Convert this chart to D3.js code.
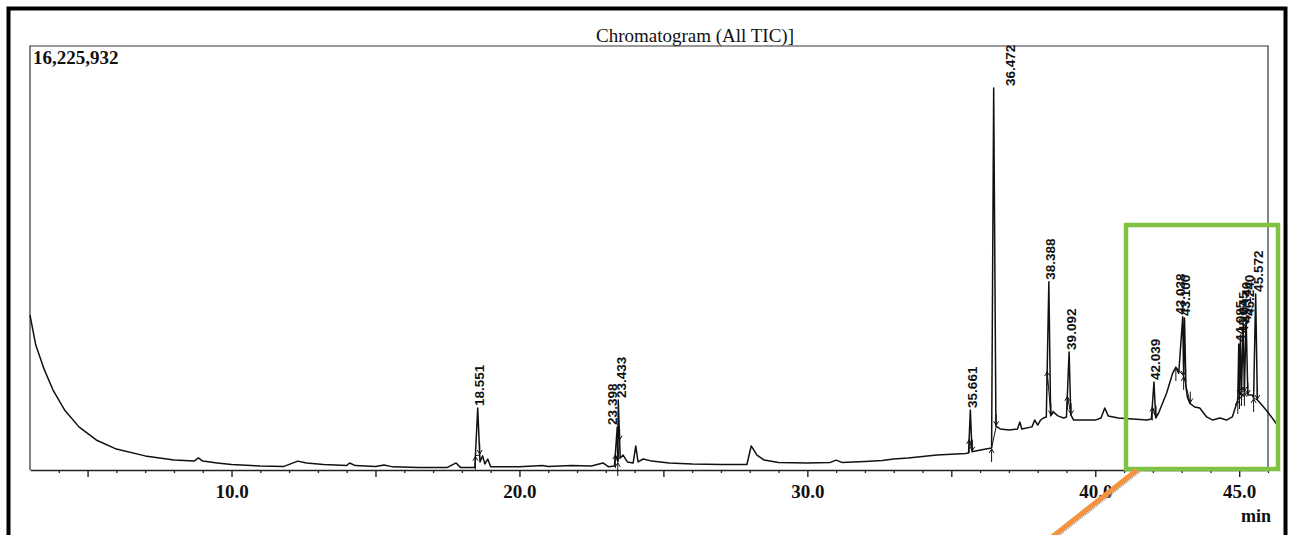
<!DOCTYPE html>
<html>
<head>
<meta charset="utf-8">
<script src="https://cdn.jsdelivr.net/npm/d3@7"></script>
<style>
  html, body { margin: 0; padding: 0; background: #fff; }
  svg { display: block; }
</style>
</head>
<body>
<svg id="chart" width="1290" height="535"></svg>
<script>
// ---------------- DATA ----------------
const chartTitle = "Chromatogram (All TIC)]";
const yMaxLabel = "16,225,932";
const yMax = 16.225932;            // intensity, millions of counts
const xDomain = [3.0, 46.0];      // retention time, min
const xLabelTicks = [10, 20, 30, 40, 45];
const xMajorTicks = [5, 10, 15, 20, 25, 30, 35, 40, 45];
const xMinorTicks = [4,6,7,8,9,11,12,13,14,16,17,18,19,21,22,23,24,26,27,28,29,31,32,33,34,36,37,38,39,41,42,43,44,46];
const xUnit = "min";

// TIC trace: retention time (min)
const traceTime = [3.0,3.2,3.5,3.8,4.2,4.7,5.3,6.0,7.0,8.0,8.7,8.85,9.0,9.5,10.0,11.0,11.8,12.3,12.6,13.2,14.0,14.1,14.3,15.0,15.3,15.6,16.5,17.5,17.8,17.95,18.45,18.551,18.63,18.72,18.8,18.9,19.0,20.0,20.8,21.0,21.8,22.5,22.9,23.1,23.3,23.398,23.415,23.433,23.5,23.6,23.75,23.95,24.04,24.12,24.3,24.6,25.2,26.0,27.0,27.9,28.05,28.25,28.5,29.0,30.0,30.8,31.0,31.2,32.0,32.6,33.0,33.5,34.0,34.5,35.0,35.5,35.6,35.661,35.72,35.8,36.2,36.4,36.472,36.55,36.7,37.0,37.3,37.38,37.45,37.8,37.9,38.0,38.1,38.2,38.3,38.388,38.45,38.55,38.7,38.9,39.0,39.092,39.15,39.25,39.5,40.0,40.2,40.33,40.45,40.8,41.3,41.8,41.95,42.039,42.1,42.2,42.48,42.69,42.8,42.9,43.038,43.07,43.1,43.15,43.2,43.28,43.45,43.63,43.87,44.08,44.33,44.56,44.76,44.95,44.985,45.01,45.045,45.08,45.14,45.18,45.24,45.3,45.45,45.5,45.572,45.63,45.7,45.99,46.4];
// TIC trace: intensity (millions of counts)
const traceIntensity = [5.93,4.78,3.83,3.06,2.30,1.65,1.15,0.80,0.54,0.38,0.34,0.46,0.34,0.27,0.21,0.15,0.13,0.34,0.27,0.21,0.17,0.27,0.17,0.13,0.19,0.12,0.10,0.10,0.27,0.10,0.10,2.37,0.31,0.54,0.23,0.42,0.12,0.12,0.17,0.13,0.17,0.15,0.27,0.12,0.15,1.65,0.31,2.68,0.46,0.57,0.31,0.27,0.92,0.31,0.42,0.34,0.27,0.23,0.21,0.21,0.92,0.57,0.38,0.29,0.27,0.29,0.38,0.29,0.33,0.36,0.42,0.46,0.52,0.57,0.60,0.63,0.65,2.30,0.70,0.72,0.80,0.84,14.62,1.68,1.57,1.53,1.57,1.84,1.57,1.65,1.91,1.72,1.91,1.99,2.03,7.20,2.07,2.22,2.07,1.99,2.03,4.52,2.11,1.91,1.91,1.91,1.99,2.37,2.07,1.99,1.95,1.91,1.95,3.37,1.99,2.18,2.95,3.71,3.94,3.70,5.86,3.60,5.82,3.18,2.79,2.56,2.41,2.37,2.03,1.91,1.99,1.91,2.03,2.68,4.82,2.87,5.17,2.99,5.55,2.99,5.82,2.87,2.87,2.76,6.74,2.68,2.60,2.22,1.61];

// Labelled peaks
const peakLabels = ["18.551","23.398","23.433","35.661","36.472","38.388","39.092","42.039","43.038","43.100","44.985","45.045","45.140","45.240","45.572"];
const peakTime   = [18.551,23.398,23.433,35.661,36.472,38.388,39.092,42.039,43.038,43.100,44.985,45.045,45.140,45.240,45.572];
const peakStart  = [18.47,23.33,23.415,35.62,36.40,38.33,39.03,41.98,42.80,43.07,44.95,45.01,45.08,45.18,45.50];
const peakEnd    = [18.62,23.415,23.48,35.73,36.56,38.46,39.16,42.11,43.07,43.30,45.01,45.08,45.18,45.30,45.63];
const peakLabelShift = [2,-5,3,2,17,2,2,2,-2,1,2,3,3,3,3];

// ---------------- DRAW ----------------
const svg = d3.select("#chart");
const pLeft = 30, pRight = 1268, pTop = 46, pBottom = 470;

const x = d3.scaleLinear().domain(xDomain).range([pLeft, pRight]);
const y = d3.scaleLinear().domain([0, yMax]).range([pBottom, pTop]);

const trace = traceTime.map((t, i) => ({ t, v: traceIntensity[i] }));
const interp = t => {
  const i = d3.bisector(d => d.t).left(trace, t);
  if (i <= 0) return trace[0].v;
  if (i >= trace.length) return trace[trace.length - 1].v;
  const a = trace[i - 1], b = trace[i];
  return a.v + (b.v - a.v) * (t - a.t) / (b.t - a.t);
};

// outer black border
svg.append("rect")
  .attr("x", 8.5).attr("y", 8.5).attr("width", 1277).attr("height", 540)
  .attr("fill", "none").attr("stroke", "#000").attr("stroke-width", 4);

// plot frame
svg.append("path")
  .attr("d", `M${pLeft},${pBottom} V${pTop} H${pRight} V${pBottom}`)
  .attr("fill", "none").attr("stroke", "#333").attr("stroke-width", 1.2);

const serif = "'Liberation Serif', 'Times New Roman', serif";

// title
svg.append("text")
  .attr("x", 695).attr("y", 42)
  .attr("text-anchor", "middle")
  .attr("font-family", serif)
  .attr("font-size", 19).attr("fill", "#111")
  .text(chartTitle);

// y max label
svg.append("text")
  .attr("x", 33).attr("y", 64)
  .attr("font-family", serif)
  .attr("font-weight", "bold")
  .attr("font-size", 19).attr("fill", "#111")
  .text(yMaxLabel);

// x axis: minor ticks, major ticks, labels
const gMinor = svg.append("g").attr("transform", `translate(0,${pBottom})`)
  .call(d3.axisBottom(x).tickValues(xMinorTicks).tickSize(3).tickSizeOuter(0).tickFormat(""));
gMinor.select(".domain").attr("stroke", "#222").attr("stroke-width", 1.6);
gMinor.selectAll(".tick line").attr("stroke", "#222").attr("stroke-width", 1.3);

const gMajor = svg.append("g").attr("transform", `translate(0,${pBottom})`)
  .call(d3.axisBottom(x).tickValues(xMajorTicks).tickSize(7).tickSizeOuter(0).tickFormat(""));
gMajor.select(".domain").remove();
gMajor.selectAll(".tick line").attr("stroke", "#222").attr("stroke-width", 1.4);

const gLab = svg.append("g").attr("transform", `translate(0,${pBottom})`)
  .call(d3.axisBottom(x).tickValues(xLabelTicks).tickSize(0).tickPadding(15).tickFormat(d3.format(".1f")));
gLab.select(".domain").remove();
gLab.selectAll(".tick text")
  .attr("font-family", serif).attr("font-weight", "bold")
  .attr("font-size", 19).attr("fill", "#111");

svg.append("text")
  .attr("x", 1271).attr("y", 522).attr("text-anchor", "end")
  .attr("font-family", serif).attr("font-weight", "bold")
  .attr("font-size", 18).attr("fill", "#111")
  .text(xUnit);

// trace
const line = d3.line().x(d => x(d.t)).y(d => y(d.v));
svg.append("path")
  .datum(trace)
  .attr("d", line)
  .attr("fill", "none").attr("stroke", "#111").attr("stroke-width", 1.5)
  .attr("stroke-linejoin", "round");

// integration baselines + start/end arrows
const marks = svg.append("g").attr("stroke", "#111").attr("fill", "none").attr("stroke-width", 1);
peakTime.forEach((rt, i) => {
  const xs = x(peakStart[i]), ys = y(interp(peakStart[i]));
  const xe = x(peakEnd[i]), ye = y(interp(peakEnd[i]));
  marks.append("line").attr("x1", xs).attr("y1", ys).attr("x2", xe).attr("y2", ye);
  marks.append("path").attr("d", `M${xs},${ys + 14} V${ys + 1} M${xs - 2.5},${ys + 5} L${xs},${ys + 1} L${xs + 2.5},${ys + 5}`);
  marks.append("path").attr("d", `M${xe},${ye - 12} V${ye - 1} M${xe - 2.5},${ye - 5} L${xe},${ye - 1} L${xe + 2.5},${ye - 5}`);
});

// peak labels (rotated)
peakTime.forEach((rt, i) => {
  const px = x(rt) + peakLabelShift[i];
  const py = y(interp(rt)) - 2;
  svg.append("text")
    .attr("transform", `translate(${px},${py}) rotate(-90)`)
    .attr("dominant-baseline", "central")
    .attr("font-family", "'Liberation Sans', Arial, sans-serif")
    .attr("font-weight", "bold")
    .attr("font-size", 13.5).attr("fill", "#111")
    .text(peakLabels[i]);
});

// highlight box and pointer
svg.append("rect")
  .attr("x", 1126).attr("y", 225).attr("width", 152).attr("height", 244)
  .attr("fill", "none").attr("stroke", "#80c342").attr("stroke-width", 4.5);

svg.append("line")
  .attr("x1", 1139).attr("y1", 472).attr("x2", 1055).attr("y2", 538)
  .attr("stroke", "#999").attr("stroke-width", 2.5).attr("stroke-dasharray", "1,1");
svg.append("line")
  .attr("x1", 1137).attr("y1", 470).attr("x2", 1052).attr("y2", 537)
  .attr("stroke", "#f5923e").attr("stroke-width", 5);
</script>
</body>
</html>
